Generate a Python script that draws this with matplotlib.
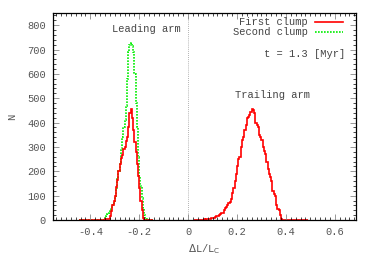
import numpy as np
import matplotlib
matplotlib.use("Agg")
import matplotlib.pyplot as plt
from matplotlib.ticker import MultipleLocator

# ---- data (bin width 0.005) ----
bin_width = 0.005

lead_start = -0.445
lead_red = [1, 0, 2, 1, 0, 1, 2, 0, 1, 1, 0, 2, 1, 0, 1, 2, 1, 0, 1, 2, 2, 3, 3, 4, 5,
            15, 35, 60, 80, 100, 135, 165, 200, 230, 255, 265, 290, 300, 325, 340,
            380, 440, 455, 420, 370, 320, 280, 230, 180, 130, 80, 40, 10, 0,
            1, 0, 1, 0, 1, 0]
lead_green = [2, 1, 0, 2, 1, 1, 0, 2, 1, 0, 1, 1, 0, 2, 1, 1, 0, 1, 1, 2, 3, 8, 15, 25, 30,
              40, 50, 60, 80, 95, 130, 170, 200, 240, 290, 340, 380, 410, 470, 580,
              690, 720, 725, 715, 690, 600, 480, 380, 260, 180, 140, 90, 50, 20, 3,
              0, 1, 0, 0, 1]

trail_start = 0.025
trail_red = [1, 0, 1, 2, 1, 2, 1, 2, 3, 2, 3, 4, 5, 6, 8, 8, 10, 12, 15, 15, 20, 25,
             28, 30, 40, 50, 55, 60, 70, 75, 85, 110, 130, 160, 190, 220, 250, 260,
             300, 330, 340, 370, 390, 420, 425, 430, 445, 455, 450, 440, 400, 390,
             380, 350, 340, 330, 300, 285, 270, 240, 210, 190, 175, 160, 120, 105,
             100, 60, 45, 40, 20, 5, 0, 1, 0, 0, 1, 0, 0, 1, 0, 0, 0, 1, 0, 0, 0, 1, 0, 0, 0, 0, 0]

x_ticks = [-0.4, -0.2, 0, 0.2, 0.4, 0.6]
y_ticks = [0, 100, 200, 300, 400, 500, 600, 700, 800]

mono = ['Liberation Mono', 'DejaVu Sans Mono']
fs = 7.5
tick_color = '#555555'
text_color = '#444444'

fig = plt.figure(figsize=(3.74, 2.62), dpi=100)
ax = fig.add_axes([53/374, 42/262, (356-53)/374, (220-13)/262])

def edges(start, vals):
    return start + bin_width * np.arange(len(vals) + 1)

lw = 1.2
ax.stairs(lead_green, edges(lead_start, lead_green), color='#00ee00', lw=lw,
          linestyle=(0, (1, 0.8)), baseline=None)
ax.stairs(lead_red, edges(lead_start, lead_red), color='#ff0000', lw=lw, baseline=None)
ax.stairs(trail_red, edges(trail_start, trail_red), color='#ff0000', lw=lw, baseline=None)

ax.axvline(0, color='#999999', lw=0.6, linestyle=(0, (1, 1.5)), zorder=0)

ax.set_xlim(-0.553, 0.687)
ax.set_ylim(0, 850)
ax.set_xticks(x_ticks)
ax.set_xticklabels(['-0.4', '-0.2', '0', '0.2', '0.4', '0.6'])
ax.set_yticks(y_ticks)
ax.xaxis.set_minor_locator(MultipleLocator(0.02))
ax.yaxis.set_minor_locator(MultipleLocator(20))
ax.tick_params(which='both', direction='in', top=True, right=True)
ax.tick_params(which='major', length=4, color='#888888', width=0.6,
               labelsize=fs, labelcolor=tick_color, pad=5)
ax.tick_params(which='minor', length=2, color='#000000', width=0.5)
for lab in ax.get_xticklabels() + ax.get_yticklabels():
    lab.set_family(mono)
for s in ax.spines.values():
    s.set_linewidth(0.9)

ax.set_xlabel(r'$\Delta$L/L$_\mathrm{C}$', fontsize=fs, family=mono, color=tick_color, labelpad=4)
ax.set_ylabel('N', fontsize=fs, family=mono, color=tick_color, labelpad=7)

ax.text(-0.17, 783, 'Leading arm', fontsize=fs, family=mono, color=text_color,
        ha='center', va='center')
ax.text(0.344, 512, 'Trailing arm', fontsize=fs, family=mono, color=text_color,
        ha='center', va='center')
ax.text(0.641, 680, 't = 1.3 [Myr]', fontsize=fs, family=mono, color=text_color,
        ha='right', va='center')

# legend (gnuplot style)
ax.text(0.49, 812, 'First clump', fontsize=fs, family=mono, color=text_color,
        ha='right', va='center')
ax.text(0.49, 771, 'Second clump', fontsize=fs, family=mono, color=text_color,
        ha='right', va='center')
ax.plot([0.52, 0.635], [812, 812], color='#ff0000', lw=lw)
ax.plot([0.52, 0.635], [771, 771], color='#00ee00', lw=lw, linestyle=(0, (1, 0.8)))

fig.savefig('out.png', dpi=100)
